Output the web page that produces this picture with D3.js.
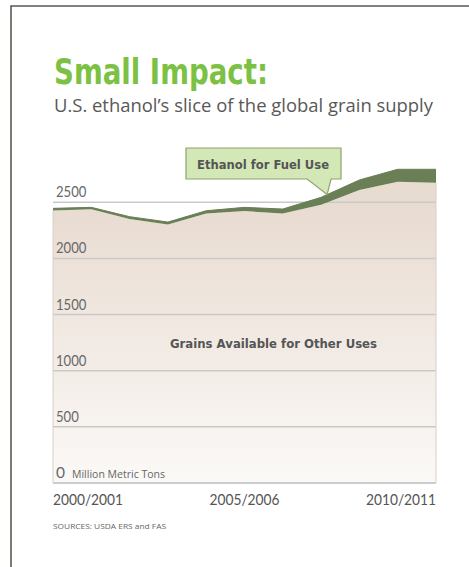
<!DOCTYPE html>
<html><head><meta charset="utf-8">
<script src="https://cdn.jsdelivr.net/npm/d3@7"></script>
<style>body{margin:0;background:#fff;}svg{display:block;}</style>
</head><body>
<svg id="c" width="469" height="567"></svg>
<script>
const years = ["2000/2001","2001/2002","2002/2003","2003/2004","2004/2005","2005/2006","2006/2007","2007/2008","2008/2009","2009/2010","2010/2011"];
const otherUses = [2428, 2437, 2352, 2302, 2400, 2422, 2400, 2478, 2609, 2683, 2674];
const ethanol = [18, 18, 20, 22, 25, 33, 40, 66, 90, 111, 120];
const yTicks = [0, 500, 1000, 1500, 2000, 2500];
const xLabels = ["2000/2001", "2005/2006", "2010/2011"];

const svg = d3.select("#c");
const ml = 53, mr = 436, mb = 483, mt = 202.3;
const x = d3.scalePoint().domain(years).range([ml, mr]);
const y = d3.scaleLinear().domain([0, 2500]).range([mb, mt]);

// frame
svg.append("path").attr("d", "M11,570 L11,6 L472,6").attr("fill","none").attr("stroke","#5a5a52").attr("stroke-width",1.6);

// title
svg.append("text").attr("x",54).attr("y",84).text("Small Impact:")
  .attr("font-family","'DejaVu Sans Condensed','DejaVu Sans',sans-serif").attr("font-weight","bold")
  .attr("font-size",36).attr("fill","#7cc143").attr("textLength",214).attr("lengthAdjust","spacingAndGlyphs");
svg.append("text").attr("x",54).attr("y",112).text("U.S. ethanol’s slice of the global grain supply")
  .attr("font-family","'Open Sans',sans-serif").attr("font-size",18).attr("fill","#585858")
  .attr("textLength",379).attr("lengthAdjust","spacingAndGlyphs");

const defs = svg.append("defs");
const g = defs.append("linearGradient").attr("id","gr").attr("gradientUnits","userSpaceOnUse")
  .attr("x1",0).attr("y1",200).attr("x2",0).attr("y2",mb);
g.append("stop").attr("offset",0).attr("stop-color","#e8dbd0");
g.append("stop").attr("offset",1).attr("stop-color","#fbf9f7");

const data = years.map((yr,i)=>({yr, o: otherUses[i], e: ethanol[i]}));

// other uses area
svg.append("path").datum(data)
  .attr("d", d3.area().x(d=>x(d.yr)).y0(y(0)).y1(d=>y(d.o)))
  .attr("fill","url(#gr)");

// gridlines
const grid = svg.append("g");
yTicks.forEach(t=>{
  grid.append("line").attr("x1",ml).attr("x2",mr).attr("y1",y(t)).attr("y2",y(t))
    .attr("stroke", t===0 ? "#bdbdbd" : "#c9c9c9").attr("stroke-width",1.5);
});

// side borders
svg.append("line").attr("x1",ml).attr("x2",ml).attr("y1",y(data[0].o)).attr("y2",mb).attr("stroke","#d6d0ca").attr("stroke-width",1);
svg.append("line").attr("x1",mr).attr("x2",mr).attr("y1",y(data[data.length-1].o)).attr("y2",mb).attr("stroke","#d6d0ca").attr("stroke-width",1);

// ethanol band
svg.append("path").datum(data)
  .attr("d", d3.area().x(d=>x(d.yr)).y0(d=>y(d.o)).y1(d=>y(d.o+d.e)))
  .attr("fill","#6a7f55");
svg.append("path").datum(data)
  .attr("d", d3.line().x(d=>x(d.yr)).y(d=>y(d.o+d.e)))
  .attr("fill","none").attr("stroke","#6a7f55").attr("stroke-width",1);

const lightFont = "Lato,'Open Sans',sans-serif";
// y tick labels
yTicks.forEach(t=>{
  svg.append("text").attr("x",56).attr("y",y(t)-5).text(t)
    .attr("font-family",lightFont).attr("font-weight",400).attr("font-size",14.5).attr("fill","#686868")
    .attr("textLength", t===0 ? 9 : (String(t).length*7.6)).attr("lengthAdjust","spacingAndGlyphs");
});
svg.append("text").attr("x",72).attr("y",y(0)-5).text("Million Metric Tons")
  .attr("font-family","'Open Sans',sans-serif").attr("font-size",10).attr("fill","#666")
  .attr("textLength",93).attr("lengthAdjust","spacingAndGlyphs");

// x labels
xLabels.forEach((l,i)=>{
  svg.append("text").attr("x",x(l)).attr("y",505).text(l)
    .attr("text-anchor", i===0?"start":(i===xLabels.length-1?"end":"middle"))
    .attr("font-family",lightFont).attr("font-weight",400).attr("font-size",16).attr("fill","#555")
    .attr("textLength",70).attr("lengthAdjust","spacingAndGlyphs");
});

// label inside area
svg.append("text").attr("x",273.5).attr("y",348).attr("text-anchor","middle").text("Grains Available for Other Uses")
  .attr("font-family","'DejaVu Sans',sans-serif").attr("font-weight","bold").attr("font-size",12).attr("fill","#555")
  .attr("textLength",207).attr("lengthAdjust","spacingAndGlyphs");

// callout
const tip = data[7];
const tx = x(tip.yr)+6, ty = y(tip.o+tip.e)-3;
const bx0=186, bx1=341, by0=148, by1=179;
svg.append("path")
  .attr("d", `M${bx0},${by0} L${bx1},${by0} L${bx1},${by1} L${tx+4},${by1} L${tx},${ty} L${tx-20},${by1} L${bx0},${by1} Z`)
  .attr("fill","#d4e7b6").attr("stroke","#8ca46c").attr("stroke-width",1.2);
svg.append("text").attr("x",263).attr("y",169).attr("text-anchor","middle").text("Ethanol for Fuel Use")
  .attr("font-family","'DejaVu Sans',sans-serif").attr("font-weight","bold").attr("font-size",12).attr("fill","#555")
  .attr("textLength",132).attr("lengthAdjust","spacingAndGlyphs");

// source
svg.append("text").attr("x",53).attr("y",529).text("SOURCES: USDA ERS and FAS")
  .attr("font-family","'Open Sans',sans-serif").attr("font-size",7.5).attr("fill","#666")
  .attr("textLength",113).attr("lengthAdjust","spacingAndGlyphs");
</script>
</body></html>
